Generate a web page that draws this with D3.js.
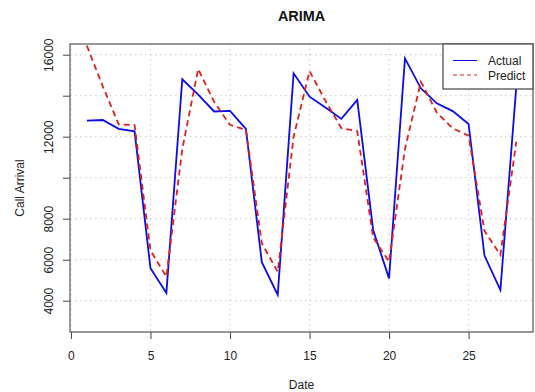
<!DOCTYPE html>
<html><head><meta charset="utf-8">
<script src="https://cdn.jsdelivr.net/npm/d3@7/dist/d3.min.js"></script>
<style>
body{margin:0;background:#fff;}
svg{display:block;font-family:"Liberation Sans",Arial,sans-serif;}
</style></head>
<body><svg id="c" width="535" height="392"></svg>
<script>
const dates = d3.range(1, 29);
const actual = [12780,12815,12380,12260,5580,4380,14800,14050,13230,13260,12380,5880,4280,15090,
                13950,13420,12870,13800,7450,5090,15820,14360,13630,13250,12620,6200,4520,14440];
const predict = [16440,14460,12600,12570,6450,5170,11400,15300,13700,12580,12330,6800,5415,12000,
                 15200,13750,12420,12270,7080,5900,11400,14680,13180,12410,12050,7400,6230,11760];
const xTicks = [0,5,10,15,20,25];
const yTicks = [4000,6000,8000,10000,12000,14000,16000];
const yLabelShown = [4000,6000,8000,12000,16000];
const seriesNames = ["Actual","Predict"];

const L=70,R=533,T=44,B=332;
const svg=d3.select("#c");
const x=d3.scaleLinear().domain([-0.06,29.05]).range([L,R]);
const y=d3.scaleLinear().domain([2473,16522]).range([B,T]);

// grid
const g=svg.append("g");
g.selectAll(".gv").data(xTicks).enter().append("line")
 .attr("x1",d=>x(d)).attr("x2",d=>x(d)).attr("y1",T).attr("y2",B)
 .attr("stroke","#d3d3d3").attr("stroke-dasharray","1.5,3.5").attr("stroke-width",1.2);
g.selectAll(".gh").data(yTicks).enter().append("line")
 .attr("y1",d=>y(d)).attr("y2",d=>y(d)).attr("x1",L).attr("x2",R)
 .attr("stroke","#d3d3d3").attr("stroke-dasharray","1.5,3.5").attr("stroke-width",1.2);

// axes
const xa=svg.append("g").attr("transform",`translate(0,${B})`)
 .call(d3.axisBottom(x).tickValues(xTicks).tickSize(7).tickSizeOuter(0).tickPadding(14));
xa.select(".domain").remove();
xa.selectAll("line").attr("stroke","#444");
xa.selectAll("text").attr("font-size",12).attr("fill","#222").attr("font-family","Liberation Sans, Arial, sans-serif")
 .attr("dy",0).attr("y",28);

const ya=svg.append("g").attr("transform",`translate(${L},0)`)
 .call(d3.axisLeft(y).tickValues(yTicks).tickSize(7).tickSizeOuter(0)
   .tickFormat(d=>yLabelShown.includes(d)?String(d):""));
ya.select(".domain").remove();
ya.selectAll("line").attr("stroke","#444");
ya.selectAll("text").attr("font-size",12).attr("fill","#222").attr("font-family","Liberation Sans, Arial, sans-serif")
 .attr("x",0).attr("dy",0).attr("text-anchor","middle").attr("transform","translate(-17,0) rotate(-90)");

// lines
const line=(arr)=>d3.line().x((d,i)=>x(dates[i])).y(d=>y(d))(arr);
svg.append("path").attr("d",line(actual)).attr("fill","none").attr("stroke","#0a0af0").attr("stroke-width",1.8);
svg.append("path").attr("d",line(predict)).attr("fill","none").attr("stroke","#e0201c").attr("stroke-width",1.8)
 .attr("stroke-dasharray","6,4");

// box
svg.append("rect").attr("x",L).attr("y",T).attr("width",R-L).attr("height",B-T)
 .attr("fill","none").attr("stroke","#555").attr("stroke-width",1.2);

// legend
const lg=svg.append("g");
lg.append("rect").attr("x",443).attr("y",T).attr("width",R-443).attr("height",45)
 .attr("fill","#fff").attr("stroke","#444").attr("stroke-width",1.2);
const lcol=["#0a0af0","#e0201c"], ldash=[null,"4,3"], ly=[60.5,75];
seriesNames.forEach((n,i)=>{
  lg.append("line").attr("x1",453).attr("x2",477).attr("y1",ly[i]).attr("y2",ly[i])
    .attr("stroke",lcol[i]).attr("stroke-width",1).attr("stroke-dasharray",ldash[i]);
  lg.append("text").attr("x",488).attr("y",ly[i]+4.5).attr("font-size",12).attr("fill","#222").text(n);
});

// titles
svg.append("text").attr("x",(L+R)/2).attr("y",21).attr("text-anchor","middle")
 .attr("font-size",14.4).attr("font-weight","bold").attr("fill","#111").text("ARIMA");
svg.append("text").attr("x",(L+R)/2).attr("y",389).attr("text-anchor","middle")
 .attr("font-size",12).attr("fill","#222").text("Date");
svg.append("text").attr("transform",`translate(24,${(T+B)/2}) rotate(-90)`).attr("text-anchor","middle")
 .attr("font-size",12).attr("fill","#222").text("Call Arrival");
</script></body></html>
